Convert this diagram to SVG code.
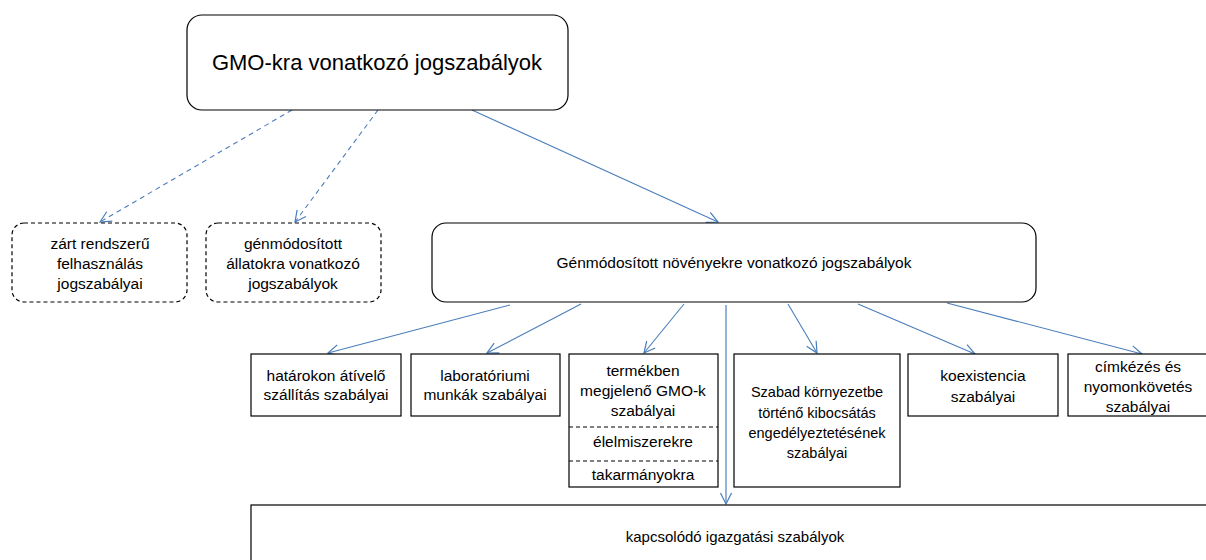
<svg xmlns="http://www.w3.org/2000/svg" width="1206" height="560" viewBox="0 0 1206 560">
<style>
text{font-family:"Liberation Sans",Arial,sans-serif;fill:#000;text-anchor:middle}
.t{font-size:15.5px}
.s{font-size:14.5px}
.box{fill:#fff;stroke:#000;stroke-width:1.2}
.dbox{fill:#fff;stroke:#000;stroke-width:1.2;stroke-dasharray:4 3}
.div{stroke:#000;stroke-width:1.2;stroke-dasharray:4 3}
.c{fill:none;stroke:#4a7ebb;stroke-width:1.1;marker-end:url(#ah)}
.cd{fill:none;stroke:#4a7ebb;stroke-width:1.1;stroke-dasharray:5 4;marker-end:url(#ah)}
.cv{fill:none;stroke:#95b3d7;stroke-width:2;marker-end:url(#ah)}
</style>
<defs>
<marker id="ah" markerUnits="userSpaceOnUse" markerWidth="14" markerHeight="14" viewBox="0 0 14 14" refX="12" refY="7" orient="auto">
<path d="M1,1.5 L12,7 L1,12.5" fill="none" stroke="#4a7ebb" stroke-width="1.2"/>
</marker>
</defs>
<rect width="1206" height="560" fill="#fff"/>
<g id="connectors">
<line class="cd" x1="292" y1="110" x2="100" y2="222"/>
<line class="cd" x1="378" y1="110" x2="295" y2="222"/>
<line class="c" x1="472" y1="110" x2="718" y2="222"/>
<line class="c" x1="510" y1="305" x2="328" y2="353"/>
<line class="c" x1="581" y1="304" x2="487" y2="353"/>
<line class="c" x1="684" y1="304" x2="644" y2="353"/>
<line class="c" x1="788" y1="304" x2="817" y2="353"/>
<line class="c" x1="858" y1="304" x2="975" y2="354"/>
<line class="c" x1="947" y1="303" x2="1142" y2="354"/>
<line class="cv" x1="726" y1="305" x2="726" y2="504"/>
</g>
<g id="gmo">
<rect class="box" x="187" y="15" width="381" height="95" rx="15"/>
<text x="377" y="70" style="font-size:22px">GMO-kra vonatkozó jogszabályok</text>
</g>
<g id="zart">
<rect class="dbox" x="12" y="223" width="175" height="79" rx="12"/>
<text class="t" x="100" y="249">zárt rendszerű</text>
<text class="t" x="100" y="269">felhasználás</text>
<text class="t" x="100" y="289">jogszabályai</text>
</g>
<g id="allat">
<rect class="dbox" x="206" y="223" width="175" height="79" rx="12"/>
<text class="t" x="293" y="249">génmódosított</text>
<text class="t" x="293" y="269">állatokra vonatkozó</text>
<text class="t" x="293" y="289">jogszabályok</text>
</g>
<g id="noveny">
<rect class="box" x="432" y="223" width="604" height="79" rx="14"/>
<text x="734" y="268" style="font-size:15.5px">Génmódosított növényekre vonatkozó jogszabályok</text>
</g>
<g id="hatarokon">
<rect class="box" x="251" y="354" width="150" height="62"/>
<text class="t" x="326" y="381">határokon átívelő</text>
<text class="t" x="326" y="400">szállítás szabályai</text>
</g>
<g id="labor">
<rect class="box" x="411" y="354" width="149" height="62"/>
<text class="t" x="485" y="381">laboratóriumi</text>
<text class="t" x="485" y="400">munkák szabályai</text>
</g>
<g id="termek">
<rect class="box" x="569" y="354" width="149" height="133"/>
<line class="div" x1="569" y1="427" x2="718" y2="427"/>
<line class="div" x1="569" y1="461" x2="718" y2="461"/>
<text class="t" x="643" y="376">termékben</text>
<text class="t" x="643" y="396">megjelenő GMO-k</text>
<text class="t" x="643" y="416">szabályai</text>
<text class="t" x="643" y="447">élelmiszerekre</text>
<text class="t" x="643" y="480">takarmányokra</text>
</g>
<g id="szabad">
<rect class="box" x="734" y="354" width="166" height="133"/>
<text class="s" x="817" y="397">Szabad környezetbe</text>
<text class="s" x="817" y="418">történő kibocsátás</text>
<text class="s" x="817" y="438">engedélyeztetésének</text>
<text class="s" x="817" y="458">szabályai</text>
</g>
<g id="koex">
<rect class="box" x="908" y="354" width="150" height="62"/>
<text class="t" x="983" y="381">koexistencia</text>
<text class="t" x="983" y="402">szabályai</text>
</g>
<g id="cimke">
<rect class="box" x="1068" y="354" width="150" height="62"/>
<text class="t" x="1138" y="372">címkézés és</text>
<text class="t" x="1138" y="392">nyomonkövetés</text>
<text class="t" x="1138" y="412">szabályai</text>
</g>
<g id="kapcs">
<rect class="box" x="251" y="505" width="970" height="70"/>
<text x="735" y="542" style="font-size:15px">kapcsolódó igazgatási szabályok</text>
</g>
</svg>
